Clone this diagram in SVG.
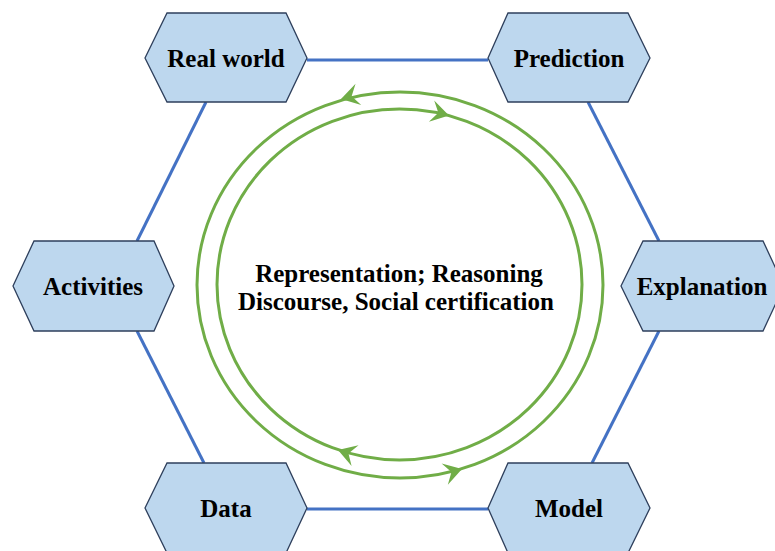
<svg xmlns="http://www.w3.org/2000/svg" width="775" height="551" viewBox="0 0 775 551">
<style>
.node{fill:#BDD7EE;stroke:#2E3F5C;stroke-width:1.3}
.lbl{font-family:"Liberation Serif","Times New Roman",serif;font-weight:bold;font-size:25px;fill:#000;text-anchor:middle}
.edge{stroke:#4472C4;stroke-width:3;fill:none}
.ring{stroke:#70AD47;stroke-width:3;fill:none}
.ah{fill:#70AD47}
</style>
<defs>
<path id="arr" d="M0,0 L-18,-11 L-11,0 L-18,11 Z"/>
</defs>
<rect width="775" height="551" fill="#fff"/>
<g id="connectors">
<line class="edge" x1="307" y1="60" x2="488" y2="60"/>
<line class="edge" x1="307" y1="509" x2="488" y2="509"/>
<line class="edge" x1="206" y1="102" x2="137" y2="241"/>
<line class="edge" x1="137" y1="331" x2="204" y2="463"/>
<line class="edge" x1="588" y1="102" x2="659" y2="241"/>
<line class="edge" x1="659" y1="331" x2="592" y2="463"/>
</g>
<g id="cycle">
<ellipse class="ring" cx="400" cy="285" rx="203" ry="193"/>
<ellipse class="ring" cx="399.5" cy="284.5" rx="182.5" ry="175.5"/>
<use href="#arr" class="ah" transform="translate(341,99) rotate(165)"/>
<use href="#arr" class="ah" transform="translate(462,469) rotate(-16.4)"/>
<use href="#arr" class="ah" transform="translate(449,115.5) rotate(14)"/>
<use href="#arr" class="ah" transform="translate(338,450) rotate(-161.6)"/>
<text class="lbl" x="399" y="282">Representation; Reasoning</text>
<text class="lbl" x="396" y="310">Discourse, Social certification</text>
</g>
<g id="real-world">
<polygon class="node" points="145,58 167,13 286,13 307,58 286,102 167,102"/>
<text class="lbl" x="226" y="67">Real world</text>
</g>
<g id="prediction">
<polygon class="node" points="488,58 508,13 628,13 650,58 628,102 508,102"/>
<text class="lbl" x="569" y="67">Prediction</text>
</g>
<g id="activities">
<polygon class="node" points="13,286 34,241 154,241 174,286 154,331 34,331"/>
<text class="lbl" x="93" y="295">Activities</text>
</g>
<g id="explanation">
<polygon class="node" points="621,286 643,241 763,241 784,286 763,331 643,331"/>
<text class="lbl" x="702" y="295">Explanation</text>
</g>
<g id="data">
<polygon class="node" points="145,508 167,463 286,463 307,508 286,553 167,553"/>
<text class="lbl" x="226" y="517">Data</text>
</g>
<g id="model">
<polygon class="node" points="488,508 508,463 628,463 650,508 628,553 508,553"/>
<text class="lbl" x="569" y="517">Model</text>
</g>
</svg>
